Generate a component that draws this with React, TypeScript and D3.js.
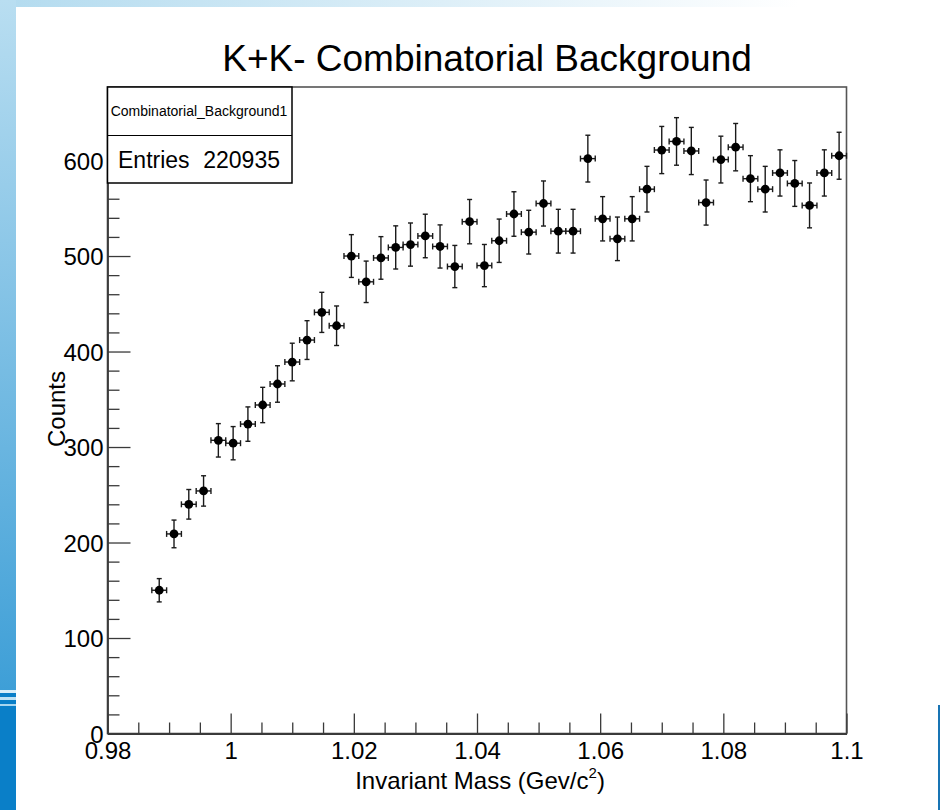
import React, { useRef, useEffect } from 'react';
import * as d3 from 'd3';

// histogram bin centres (GeV/c^2) and contents
const massBins = [
  0.9884, 0.9908, 0.9932, 0.9956, 0.998, 1.0004, 1.0028, 1.0052, 1.0076, 1.01,
  1.0124, 1.0148, 1.0172, 1.0196, 1.022, 1.0244, 1.0268, 1.0292, 1.0316, 1.034,
  1.0364, 1.0388, 1.0412, 1.0436, 1.046, 1.0484, 1.0508, 1.0532, 1.0556, 1.058,
  1.0604, 1.0628, 1.0652, 1.0676, 1.07, 1.0724, 1.0748, 1.0772, 1.0796, 1.082,
  1.0844, 1.0868, 1.0892, 1.0916, 1.094, 1.0964, 1.0988,
];
const counts = [
  150, 209, 240, 254, 307, 304, 324, 344, 366, 389,
  412, 441, 427, 500, 473, 498, 509, 512, 521, 510,
  489, 536, 490, 516, 544, 525, 555, 526, 526, 602,
  539, 518, 539, 570, 611, 620, 610, 556, 601, 614,
  581, 570, 587, 576, 553, 587, 605,
];
const countErrors = [
  12.2, 14.5, 15.5, 15.9, 17.5, 17.4, 18.0, 18.5, 19.1, 19.7,
  20.3, 21.0, 20.7, 22.4, 21.7, 22.3, 22.6, 22.6, 22.8, 22.6,
  22.1, 23.2, 22.1, 22.7, 23.3, 22.9, 23.6, 22.9, 22.9, 24.5,
  23.2, 22.8, 23.2, 23.9, 24.7, 24.9, 24.7, 23.6, 24.5, 24.8,
  24.1, 23.9, 24.2, 24.0, 23.5, 24.2, 24.6,
];
const binHalfWidth = 0.0012;

const xTickValues = [0.98, 1.0, 1.02, 1.04, 1.06, 1.08, 1.1];
const xTickLabels = ['0.98', '1', '1.02', '1.04', '1.06', '1.08', '1.1'];
const yTickValues = [0, 100, 200, 300, 400, 500, 600];
const yTickLabels = ['0', '100', '200', '300', '400', '500', '600'];

const title = 'K+K- Combinatorial Background';
const histName = 'Combinatorial_Background1';
const entries = '220935';

const FONT = '"Liberation Sans", Arial, Helvetica, sans-serif';

const App: React.FC = () => {
  const svgRef = useRef<SVGSVGElement>(null);

  useEffect(() => {
    if (!svgRef.current) return;
    const svg = d3.select(svgRef.current);
    svg.selectAll('*').remove();

    const W = 940, H = 810;
    const frame = { left: 107.5, right: 846.5, top: 87, bottom: 733.5 };

    // slide decoration
    const defs = svg.append('defs');
    const lg = defs.append('linearGradient').attr('id', 'leftBand')
      .attr('x1', 0).attr('y1', 0).attr('x2', 0).attr('y2', 1);
    lg.append('stop').attr('offset', '0%').attr('stop-color', '#b9def1');
    lg.append('stop').attr('offset', '100%').attr('stop-color', '#3e9fd7');
    const tg = defs.append('linearGradient').attr('id', 'topBand')
      .attr('x1', 0).attr('y1', 0).attr('x2', 1).attr('y2', 0);
    tg.append('stop').attr('offset', '0%').attr('stop-color', '#b3dbef');
    tg.append('stop').attr('offset', '85%').attr('stop-color', '#ffffff');

    svg.append('rect').attr('width', W).attr('height', H).attr('fill', '#ffffff');
    svg.append('rect').attr('x', 0).attr('y', 0).attr('width', W).attr('height', 7).attr('fill', 'url(#topBand)');
    svg.append('rect').attr('x', 0).attr('y', 0).attr('width', 16).attr('height', 690).attr('fill', 'url(#leftBand)');
    svg.append('rect').attr('x', 0).attr('y', 690).attr('width', 16).attr('height', 120).attr('fill', '#0a7fc8');
    [[690, 3, '#d8eef9'], [697, 3, '#bfe2f4'], [704, 2, '#a8d6ef']].forEach(([yy, hh, c]) => {
      svg.append('rect').attr('x', 0).attr('y', yy as number).attr('width', 16)
        .attr('height', hh as number).attr('fill', c as string);
    });
    svg.append('rect').attr('x', 938).attr('y', 705).attr('width', 2).attr('height', 105).attr('fill', '#1874b4');

    const x = d3.scaleLinear().domain([0.98, 1.1]).range([frame.left, frame.right]);
    const y = d3.scaleLinear().domain([0, 677]).range([frame.bottom, frame.top]);

    const axisColor = '#3a3a3a';

    // frame
    svg.append('rect')
      .attr('x', frame.left).attr('y', frame.top)
      .attr('width', frame.right - frame.left).attr('height', frame.bottom - frame.top)
      .attr('fill', 'none').attr('stroke', '#555').attr('stroke-width', 1.6);

    // x axis (ticks pointing inward)
    const xMinor = x.ticks(24).filter(t => !xTickValues.some(v => Math.abs(v - t) < 1e-9));
    svg.append('g').attr('transform', `translate(0,${frame.bottom})`)
      .call(d3.axisBottom(x).tickValues(xMinor).tickSizeInner(-11).tickSizeOuter(0).tickFormat(() => ''))
      .call(g => g.select('.domain').remove())
      .selectAll('line').attr('stroke', axisColor).attr('stroke-width', 1.3);
    const xAxis = svg.append('g').attr('transform', `translate(0,${frame.bottom})`)
      .call(d3.axisBottom(x).tickValues(xTickValues).tickSizeInner(-20).tickSizeOuter(0).tickPadding(8)
        .tickFormat((_, i) => xTickLabels[i]));
    xAxis.select('.domain').attr('stroke', axisColor).attr('stroke-width', 1.8);
    xAxis.selectAll('line').attr('stroke', axisColor).attr('stroke-width', 1.3);
    xAxis.selectAll('text').attr('fill', '#000').attr('font-size', 24).attr('font-family', FONT);

    // y axis
    const yMinor = y.ticks(34).filter(t => !yTickValues.includes(t));
    svg.append('g').attr('transform', `translate(${frame.left},0)`)
      .call(d3.axisLeft(y).tickValues(yMinor).tickSizeInner(-12).tickSizeOuter(0).tickFormat(() => ''))
      .call(g => g.select('.domain').remove())
      .selectAll('line').attr('stroke', axisColor).attr('stroke-width', 1.3);
    const yAxis = svg.append('g').attr('transform', `translate(${frame.left},0)`)
      .call(d3.axisLeft(y).tickValues(yTickValues).tickSizeInner(-23).tickSizeOuter(0).tickPadding(4)
        .tickFormat((_, i) => yTickLabels[i]));
    yAxis.select('.domain').attr('stroke', axisColor).attr('stroke-width', 1.8);
    yAxis.selectAll('line').attr('stroke', axisColor).attr('stroke-width', 1.3);
    yAxis.selectAll('text').attr('fill', '#000').attr('font-size', 24).attr('font-family', FONT)
      .attr('dy', '0.36em');

    // axis titles
    const xt = svg.append('text')
      .attr('x', 480).attr('y', 789).attr('text-anchor', 'middle')
      .attr('font-size', 24).attr('font-family', FONT).attr('fill', '#000');
    xt.append('tspan').text('Invariant Mass (Gev/c');
    xt.append('tspan').attr('font-size', 15).attr('dy', -11).text('2');
    xt.append('tspan').attr('dy', 11).text(')');

    svg.append('text')
      .attr('transform', `translate(65,409) rotate(-90)`)
      .attr('text-anchor', 'middle')
      .attr('font-size', 24).attr('font-family', FONT).attr('fill', '#000')
      .text('Counts');

    // title
    svg.append('text')
      .attr('x', 487).attr('y', 71).attr('text-anchor', 'middle')
      .attr('font-size', 37).attr('font-family', FONT).attr('fill', '#000')
      .text(title);

    // error bars + markers
    const pts = svg.append('g');
    massBins.forEach((m, i) => {
      const c = counts[i], e = countErrors[i];
      const cx = x(m), cy = y(c);
      const x0 = x(m - binHalfWidth), x1 = x(m + binHalfWidth);
      const y0 = y(c - e), y1 = y(c + e);
      const g = pts.append('g').attr('stroke', '#1a1a1a').attr('stroke-width', 1.4);
      g.append('line').attr('x1', x0).attr('x2', x1).attr('y1', cy).attr('y2', cy);
      g.append('line').attr('x1', x0).attr('x2', x0).attr('y1', cy - 3).attr('y2', cy + 3);
      g.append('line').attr('x1', x1).attr('x2', x1).attr('y1', cy - 3).attr('y2', cy + 3);
      g.append('line').attr('x1', cx).attr('x2', cx).attr('y1', y0).attr('y2', y1);
      g.append('line').attr('x1', cx - 2.5).attr('x2', cx + 2.5).attr('y1', y0).attr('y2', y0);
      g.append('line').attr('x1', cx - 2.5).attr('x2', cx + 2.5).attr('y1', y1).attr('y2', y1);
      pts.append('circle').attr('cx', cx).attr('cy', cy).attr('r', 4.4).attr('fill', '#000');
    });

    // stats box
    const sb = svg.append('g');
    sb.append('rect').attr('x', 107.5).attr('y', 87).attr('width', 184.5).attr('height', 96)
      .attr('fill', '#fff').attr('stroke', '#000').attr('stroke-width', 1.5);
    sb.append('line').attr('x1', 107.5).attr('x2', 292).attr('y1', 135.5).attr('y2', 135.5)
      .attr('stroke', '#000').attr('stroke-width', 1.2);
    sb.append('text').attr('x', 199).attr('y', 116).attr('text-anchor', 'middle')
      .attr('font-size', 14).attr('font-family', FONT).attr('fill', '#000').text(histName);
    sb.append('text').attr('x', 118).attr('y', 168)
      .attr('font-size', 23).attr('font-family', FONT).attr('fill', '#000').text('Entries');
    sb.append('text').attr('x', 280).attr('y', 168).attr('text-anchor', 'end')
      .attr('font-size', 23).attr('font-family', FONT).attr('fill', '#000').text(entries);
  }, []);

  return (
    <div style={{ position: 'absolute', left: 0, top: 0, width: 940, height: 810 }}>
      <svg ref={svgRef} width={940} height={810} style={{ display: 'block' }} />
    </div>
  );
};

export default App;
